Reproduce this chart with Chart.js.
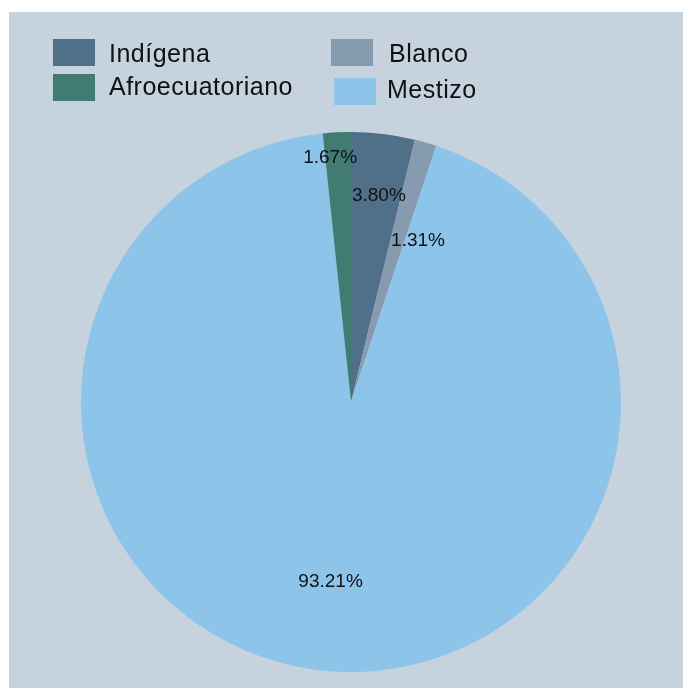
<!DOCTYPE html>
<html>
<head>
<meta charset="utf-8">
<script src="https://cdn.jsdelivr.net/npm/chart.js@4/dist/chart.umd.min.js"></script>
<style>
  html, body { margin: 0; padding: 0; background: #ffffff; overflow: hidden; }
  #wrap { position: absolute; left: 9px; top: 12px; width: 674px; height: 676px; background: #c6d2de; }
</style>
</head>
<body>
<div id="wrap"><canvas id="pie"></canvas></div>
<script>
// population shares by ethnic group (%)
const groups = ['Indígena', 'Blanco', 'Mestizo', 'Afroecuatoriano'];
const shares = [3.80, 1.31, 93.21, 1.67];
const sliceColors = ['#4f7088', '#879bb0', '#8dc4ea', '#417b72'];

// where each percentage sits, as a fraction of the radius
const labelRadius = [0.77, 0.645, 0.67, 0.907];
const labelShift = [0.015, 0.115, 0.005, -0.033]; // angular nudge (radians)

// legend cells: [groupIndex, boxX, boxY, textX, baselineY]
const legendCells = [
    [0, 44, 27, 100, 50],
    [1, 322, 27, 380, 50],
    [3, 44, 62, 100, 83],
    [2, 325, 66, 378, 86]
];

const pctLabels = {
    id: 'pctLabels',
    afterDatasetsDraw(chart) {
        const ctx = chart.ctx;
        const meta = chart.getDatasetMeta(0);
        ctx.save();
        ctx.font = '19px "Liberation Sans", Arial, sans-serif';
        ctx.fillStyle = '#111111';
        ctx.textAlign = 'center';
        ctx.textBaseline = 'middle';
        meta.data.forEach((arc, i) => {
            const mid = (arc.startAngle + arc.endAngle) / 2 + labelShift[i];
            const r = arc.outerRadius * labelRadius[i];
            const x = arc.x + Math.cos(mid) * r;
            const y = arc.y + Math.sin(mid) * r;
            ctx.fillText(shares[i].toFixed(2) + '%', x, y);
        });
        ctx.restore();
    }
};

const boxLegend = {
    id: 'boxLegend',
    afterDraw(chart) {
        const ctx = chart.ctx;
        ctx.save();
        ctx.font = '25px "Liberation Sans", Arial, sans-serif';
        ctx.letterSpacing = '0.5px';
        ctx.textBaseline = 'alphabetic';
        ctx.textAlign = 'left';
        legendCells.forEach(([i, bx, by, tx, ty]) => {
            ctx.fillStyle = sliceColors[i];
            ctx.fillRect(bx, by, 42, 27);
            ctx.fillStyle = '#111111';
            ctx.fillText(groups[i], tx, ty);
        });
        ctx.restore();
    }
};

new Chart(document.getElementById('pie'), {
    type: 'pie',
    data: {
        labels: groups,
        datasets: [{
            data: shares,
            backgroundColor: sliceColors,
            borderWidth: 0
        }]
    },
    options: {
        responsive: true,
        maintainAspectRatio: false,
        animation: false,
        layout: { padding: { left: 72, right: 62, top: 120, bottom: 16 } },
        plugins: {
            legend: { display: false },
            tooltip: { enabled: false }
        }
    },
    plugins: [pctLabels, boxLegend]
});
</script>
</body>
</html>
